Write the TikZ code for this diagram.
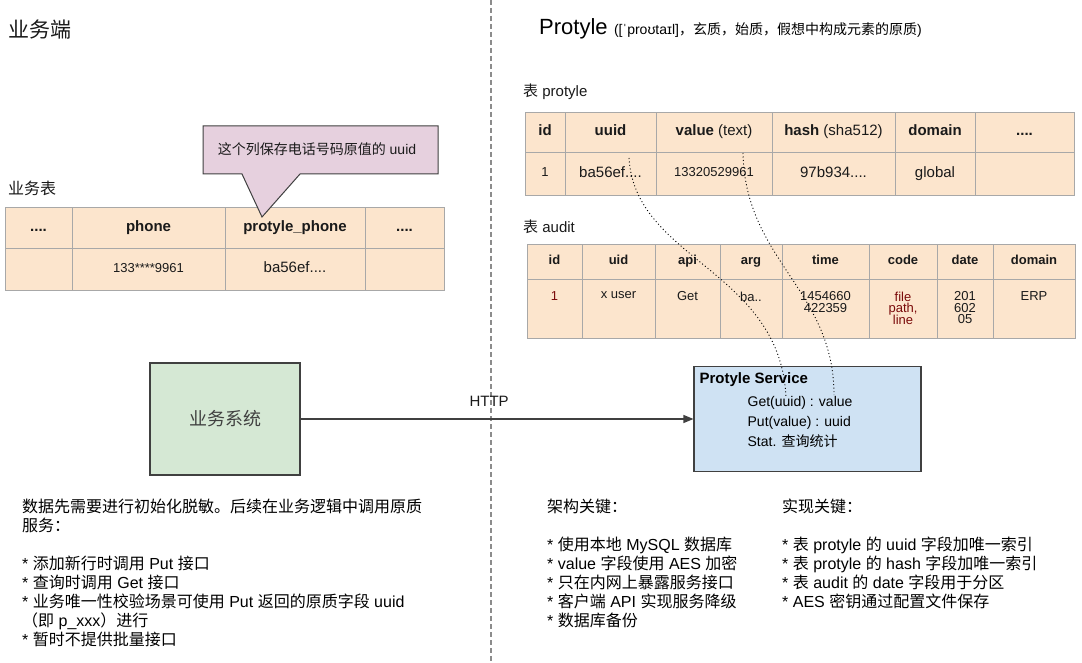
\documentclass[tikz,border=0pt]{standalone}
\usepackage{fontspec}
\setmainfont{Liberation Sans}
\newfontfamily\cjk{Noto Sans CJK SC}
\usetikzlibrary{arrows.meta,positioning}
\definecolor{PTPeach}{HTML}{FCE5CD}
\definecolor{PTGrid}{HTML}{A8A8A8}
\definecolor{PTPink}{HTML}{E6D0DE}
\definecolor{PTGreen}{HTML}{D5E8D4}
\definecolor{PTBlue}{HTML}{CFE2F3}
\definecolor{PTInk}{HTML}{1A1A1A}
\definecolor{PTEdge}{HTML}{404040}
\definecolor{PTRed}{HTML}{7A0A0A}
\definecolor{PTDash}{HTML}{8C8C8C}
\tikzset{
  cell/.style={draw=PTGrid,line width=0.9pt,fill=PTPeach,inner sep=0pt,
               text=PTInk,align=center,font=\fontsize{15}{18}\selectfont,
               text height=11pt,text depth=3.5pt},
  headcell/.style={cell,font=\fontsize{15}{18}\selectfont\bfseries},
  smallcell/.style={cell,font=\fontsize{13}{15}\selectfont,text height=9.5pt,text depth=3pt},
  audithead/.style={cell,font=\fontsize{13}{15}\selectfont\bfseries,text height=9.5pt,text depth=3pt},
  celltext/.style={inner sep=0pt,text=PTInk,align=center,
                   font=\fontsize{13}{11.5}\selectfont,
                   execute at begin node={\lineskiplimit=-20pt\relax}},
  box/.style={draw=PTEdge,line width=1.1pt,inner sep=0pt},
  sysbox/.style={box,fill=PTGreen,text=PTEdge},
  svcbox/.style={box,fill=PTBlue},
  bubble/.style={draw=PTEdge,line width=1pt,fill=PTPink},
  flow/.style={-{Triangle[length=10pt,width=8pt]},PTEdge,line width=1.2pt},
  link/.style={black,line width=0.9pt,dash pattern=on 1pt off 2.5pt},
  divider/.style={PTDash,line width=1.5pt,dash pattern=on 5pt off 3pt},
  heading/.style={text=PTInk,inner sep=0pt,font=\fontsize{15}{18}\selectfont},
  memo/.style={text=black,inner sep=0pt,align=left,font=\fontsize{16}{19}\selectfont},
}
\begin{document}
\begin{tikzpicture}[x=1pt,y=-1pt]
  \useasboundingbox[fill=white] (0,0) rectangle (1082,663);
  \draw[divider] (491,0) -- (491,663);

  % business side
  \node[heading,anchor=west,font=\fontsize{21}{24}\selectfont\cjk] (bizhead) at (8,30) {业务端};
  \node[heading,anchor=west,font=\fontsize{16}{19}\selectfont\cjk] (biztab) at (8,188) {业务表};

  \node[headcell,minimum width=67pt,minimum height=41pt] (b11) at (38.5,227.5) {....};
  \node[headcell,minimum width=153pt,minimum height=41pt] (b12) at (148.5,227.5) {phone};
  \node[headcell,minimum width=140pt,minimum height=41pt] (b13) at (295,227.5) {protyle\_phone};
  \node[headcell,minimum width=79pt,minimum height=41pt] (b14) at (404.5,227.5) {....};
  \node[cell,minimum width=67pt,minimum height=42pt] (b21) at (38.5,269) {};
  \node[smallcell,minimum width=153pt,minimum height=42pt] (b22) at (148.5,269) {133****9961};
  \node[cell,minimum width=140pt,minimum height=42pt] (b23) at (295,269) {ba56ef....};
  \node[cell,minimum width=79pt,minimum height=42pt] (b24) at (404.5,269) {};

  \draw[bubble] (203,126) -- (438,126) -- (438,174) -- (300,174) -- (262,217)
    -- (242,174) -- (203,174) -- cycle;
  \node[heading,font=\fontsize{14}{17}\selectfont] (bubbletext) at (317,149)
    {{\cjk 这个列保存电话号码原值的} uuid};

  \node[sysbox,minimum width=150pt,minimum height=112pt,
        font=\fontsize{18}{21}\selectfont\cjk] (bizsys) at (225,419) {业务系统};

  \node[memo,anchor=north west] (usage) at (22,499)
    {{\cjk 数据先需要进行初始化脱敏。后续在业务逻辑中调用原质}\\
     {\cjk 服务：}\\[19pt]
     * {\cjk 添加新行时调用} Put {\cjk 接口}\\
     * {\cjk 查询时调用} Get {\cjk 接口}\\
     * {\cjk 业务唯一性校验场景可使用} Put {\cjk 返回的原质字段} uuid\\
     {\cjk （即} p\_xxx{\cjk ）进行}\\
     * {\cjk 暂时不提供批量接口}};

  % protyle side
  \node[anchor=base west,inner sep=0pt,font=\fontsize{22}{26}\selectfont] (ptitle) at (539,35) {Protyle};
  \node[anchor=base west,inner sep=0pt,font=\fontsize{14}{16}\selectfont] (pnote)
    at ([xshift=6pt]ptitle.base east) {([ˈproʊtaɪl]{\cjk ，玄质，始质，假想中构成元素的原质})};

  \node[heading,anchor=west] (ptab) at (523,92) {{\cjk 表} protyle};
  \node[headcell,minimum width=40pt,minimum height=40pt] (p11) at (545,132) {id};
  \node[headcell,minimum width=91pt,minimum height=40pt] (p12) at (610.5,132) {uuid};
  \node[cell,minimum width=116pt,minimum height=40pt] (p13) at (714,132) {\textbf{value} (text)};
  \node[cell,minimum width=123pt,minimum height=40pt] (p14) at (833.5,132) {\textbf{hash} (sha512)};
  \node[headcell,minimum width=80pt,minimum height=40pt] (p15) at (935,132) {domain};
  \node[headcell,minimum width=99pt,minimum height=40pt] (p16) at (1024.5,132) {....};
  \node[smallcell,minimum width=40pt,minimum height=43pt] (p21) at (545,173.5) {1};
  \node[cell,minimum width=91pt,minimum height=43pt] (p22) at (610.5,173.5) {ba56ef....};
  \node[smallcell,minimum width=116pt,minimum height=43pt] (p23) at (714,173.5) {13320529961};
  \node[cell,minimum width=123pt,minimum height=43pt] (p24) at (833.5,173.5) {97b934....};
  \node[cell,minimum width=80pt,minimum height=43pt] (p25) at (935,173.5) {global};
  \node[cell,minimum width=99pt,minimum height=43pt] (p26) at (1024.5,173.5) {};

  \node[heading,anchor=west] (atab) at (523,227) {{\cjk 表} audit};
  \node[audithead,minimum width=55pt,minimum height=35pt] (a11) at (554.5,261.5) {id};
  \node[audithead,minimum width=73pt,minimum height=35pt] (a12) at (618.5,261.5) {uid};
  \node[audithead,minimum width=65pt,minimum height=35pt] (a13) at (687.5,261.5) {api};
  \node[audithead,minimum width=62pt,minimum height=35pt] (a14) at (751,261.5) {arg};
  \node[audithead,minimum width=87pt,minimum height=35pt] (a15) at (825.5,261.5) {time};
  \node[audithead,minimum width=68pt,minimum height=35pt] (a16) at (903,261.5) {code};
  \node[audithead,minimum width=56pt,minimum height=35pt] (a17) at (965,261.5) {date};
  \node[audithead,minimum width=82pt,minimum height=35pt] (a18) at (1034,261.5) {domain};
  \node[cell,minimum width=55pt,minimum height=59pt] (a21) at (554.5,308.5) {};
  \node[cell,minimum width=73pt,minimum height=59pt] (a22) at (618.5,308.5) {};
  \node[cell,minimum width=65pt,minimum height=59pt] (a23) at (687.5,308.5) {};
  \node[cell,minimum width=62pt,minimum height=59pt] (a24) at (751,308.5) {};
  \node[cell,minimum width=87pt,minimum height=59pt] (a25) at (825.5,308.5) {};
  \node[cell,minimum width=68pt,minimum height=59pt] (a26) at (903,308.5) {};
  \node[cell,minimum width=56pt,minimum height=59pt] (a27) at (965,308.5) {};
  \node[cell,minimum width=82pt,minimum height=59pt] (a28) at (1034,308.5) {};
  \node[celltext,text=PTRed,below=13pt of a21.north] (a21t) {1};
  \node[celltext,below=13pt of a22.north] (a22t) {x user};
  \node[celltext,below=13pt of a23.north] (a23t) {Get};
  \node[celltext,below=13pt of a24.north] (a24t) {ba..};
  \node[celltext,below=13pt of a25.north] (a25t) {1454660\\422359};
  \node[celltext,text=PTRed,below=13pt of a26.north] (a26t) {file\\path,\\line};
  \node[celltext,below=13pt of a27.north] (a27t) {201\\602\\05};
  \node[celltext,below=13pt of a28.north] (a28t) {ERP};

  \node[svcbox,minimum width=227pt,minimum height=105pt] (svc) at (807.5,419) {};
  \node[anchor=west,inner sep=0pt,font=\fontsize{15}{18}\selectfont\bfseries] (svctitle)
    at ([shift={(6,14)}]svc.north west) {Protyle Service};
  \node[anchor=north west,align=left,inner sep=0pt,font=\fontsize{14}{20}\selectfont] (svcapi)
    at ([shift={(54,30)}]svc.north west) {Get(uuid) : value\\Put(value) : uuid\\Stat. {\cjk 查询统计}};

  \draw[flow] (bizsys) -- (svc) node[heading,pos=0.48,above=12pt] (http) {HTTP};

  \coordinate (uuidpin) at (629,158);
  \coordinate (valuepin) at (743,153);
  \coordinate (getuuid) at (786,397);
  \coordinate (getvalue) at (834,395);
  \draw[link] (uuidpin) .. controls (635,260) and (780,270) .. (getuuid);
  \draw[link] (valuepin) .. controls (745,260) and (834,290) .. (getvalue);

  \node[memo,anchor=north west] (archkeys) at (547,499)
    {{\cjk 架构关键：}\\[19pt]
     * {\cjk 使用本地} MySQL {\cjk 数据库}\\
     * value {\cjk 字段使用} AES {\cjk 加密}\\
     * {\cjk 只在内网上暴露服务接口}\\
     * {\cjk 客户端} API {\cjk 实现服务降级}\\
     * {\cjk 数据库备份}};
  \node[memo,anchor=north west] (implkeys) at (782,499)
    {{\cjk 实现关键：}\\[19pt]
     * {\cjk 表} protyle {\cjk 的} uuid {\cjk 字段加唯一索引}\\
     * {\cjk 表} protyle {\cjk 的} hash {\cjk 字段加唯一索引}\\
     * {\cjk 表} audit {\cjk 的} date {\cjk 字段用于分区}\\
     * AES {\cjk 密钥通过配置文件保存}};
\end{tikzpicture}
\end{document}
